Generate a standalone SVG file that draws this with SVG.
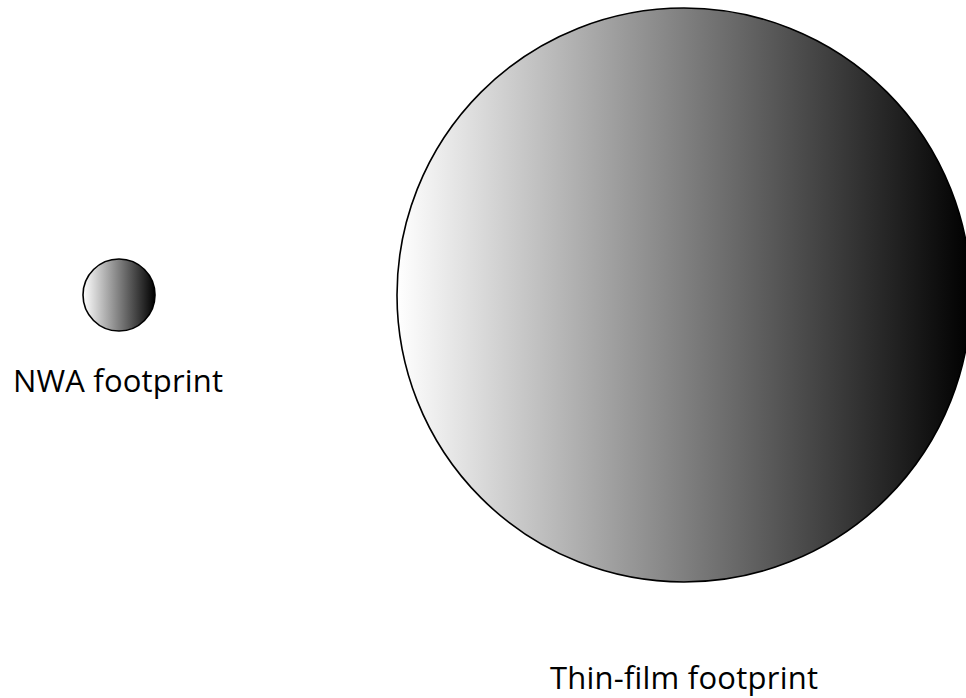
<svg xmlns="http://www.w3.org/2000/svg" width="966" height="698" viewBox="0 0 966 698">
<defs>
<linearGradient id="shade" x1="0" y1="0" x2="1" y2="0">
<stop offset="0" stop-color="#ffffff"/>
<stop offset="1" stop-color="#000000"/>
</linearGradient>
<style>
.fp{fill:url(#shade);stroke:#000;stroke-width:1.6}
.lbl{font-family:"Open Sans","Liberation Sans",sans-serif;font-size:31px;fill:#000}
</style>
</defs>
<rect width="966" height="698" fill="#fff"/>
<g id="nwa">
<circle class="fp" cx="119" cy="295" r="36"/>
<text class="lbl" x="13" y="392" textLength="210">NWA footprint</text>
</g>
<g id="thinfilm">
<circle class="fp" cx="684" cy="295" r="287"/>
<text class="lbl" x="550" y="689" textLength="268">Thin-film footprint</text>
</g>
<g id="connectors"/>
</svg>
